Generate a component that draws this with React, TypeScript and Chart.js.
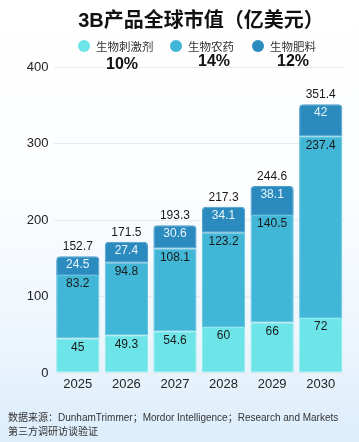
import React, { useEffect, useRef } from "react";
import { Chart, registerables } from "chart.js";

Chart.register(...registerables);

const categories = ["2025", "2026", "2027", "2028", "2029", "2030"];
const biostimulants = [45, 49.3, 54.6, 60, 66, 72];
const biopesticides = [83.2, 94.8, 108.1, 123.2, 140.5, 237.4];
const biofertilizers = [24.5, 27.4, 30.6, 34.1, 38.1, 42];
const totals = [152.7, 171.5, 193.3, 217.3, 244.6, 351.4];
const seriesNames = ["生物刺激剂", "生物农药", "生物肥料"];
const growthRates = ["10%", "14%", "12%"];
const yTicks = [0, 100, 200, 300, 400];

const colors = ["#6ce4e8", "#42b6d6", "#2b8bbf"];
const borderColors = ["#8aeced", "#62c5e0", "#4a9ecb"];
const FONT = "'Liberation Sans', 'Noto Sans CJK SC', Arial, sans-serif";

const labelPlugin = {
  id: "segLabels",
  afterDatasetsDraw(chart: any) {
    const ctx = chart.ctx;
    ctx.save();
    ctx.font = `12px ${FONT}`;
    ctx.textAlign = "center";
    ctx.textBaseline = "middle";
    chart.data.datasets.forEach((ds: any, di: number) => {
      const meta = chart.getDatasetMeta(di);
      meta.data.forEach((el: any, i: number) => {
        ctx.fillStyle = di === 2 ? "#e9f5fb" : "#1a1a1a";
        ctx.fillText(String(ds.data[i]), el.x, el.y + 9);
        if (di === 2) {
          ctx.fillStyle = "#1a1a1a";
          ctx.fillText(String(totals[i]), el.x, el.y - 9);
        }
      });
    });
    ctx.restore();
  },
};

export default function App() {
  const ref = useRef<HTMLCanvasElement>(null);
  useEffect(() => {
    document.body.style.margin = "0";
    const chart = new Chart(ref.current!, {
      type: "bar",
      data: {
        labels: categories,
        datasets: [biostimulants, biopesticides, biofertilizers].map((d, i) => ({
          label: seriesNames[i],
          data: d,
          backgroundColor: colors[i],
          borderColor: borderColors[i],
          borderWidth: 1,
          borderSkipped: false,
          borderRadius: i === 2 ? { topLeft: 4, topRight: 4, bottomLeft: 0, bottomRight: 0 } : 0,
          barPercentage: 0.89,
          categoryPercentage: 1,
        })),
      },
      options: {
        responsive: false,
        animation: false,
        layout: { padding: { top: 67, right: 14, bottom: 49, left: 0 } },
        plugins: { legend: { display: false }, title: { display: false }, tooltip: { enabled: false } },
        scales: {
          x: {
            stacked: true,
            grid: { display: false, drawTicks: false },
            border: { display: false },
            ticks: { color: "#222", font: { family: FONT, size: 13 }, padding: 4 },
            afterFit: (s: any) => { s.height = 20; },
          },
          y: {
            stacked: true,
            min: 0,
            max: 400,
            afterBuildTicks: (s: any) => { s.ticks = yTicks.map((v) => ({ value: v })); },
            grid: { color: "#e9eaec", drawTicks: false },
            border: { display: false },
            ticks: { color: "#222", font: { family: FONT, size: 13 }, padding: 5 },
            afterFit: (s: any) => { s.width = 53.5; },
          },
        },
      },
      plugins: [labelPlugin],
    } as any);
    return () => chart.destroy();
  }, []);

  const legendItems = [
    { cx: 84, tx: 96, px: 122, py: 64 },
    { cx: 176, tx: 188, px: 214, py: 61 },
    { cx: 258, tx: 270, px: 293, py: 61 },
  ];

  return (
    <div
      style={{
        position: "absolute",
        left: 0,
        top: 0,
        width: 359,
        height: 442,
        overflow: "hidden",
        fontFamily: FONT,
        background: "linear-gradient(to bottom, #ffffff 0%, #fbfdff 45%, #eef6fd 75%, #dcedfb 100%)",
      }}
    >
      <canvas ref={ref} width={359} height={442} style={{ position: "absolute", left: 0, top: 0 }} />
      <div
        style={{
          position: "absolute",
          left: 201,
          top: 17.5,
          transform: "translate(-50%, -50%)",
          whiteSpace: "nowrap",
          fontWeight: "bold",
          fontSize: 20,
          color: "#111",
        }}
      >
        3B产品全球市值（亿美元）
      </div>
      {legendItems.map((it, i) => (
        <React.Fragment key={i}>
          <div
            style={{
              position: "absolute",
              left: it.cx - 6,
              top: 40,
              width: 12,
              height: 12,
              borderRadius: 6,
              background: colors[i],
            }}
          />
          <div
            style={{
              position: "absolute",
              left: it.tx,
              top: 46,
              transform: "translateY(-50%)",
              whiteSpace: "nowrap",
              fontSize: 11.5,
              color: "#333",
            }}
          >
            {seriesNames[i]}
          </div>
          <div
            style={{
              position: "absolute",
              left: it.px,
              top: it.py,
              transform: "translate(-50%, -50%)",
              whiteSpace: "nowrap",
              fontSize: 16,
              fontWeight: "bold",
              color: "#111",
            }}
          >
            {growthRates[i]}
          </div>
        </React.Fragment>
      ))}
      <div
        style={{
          position: "absolute",
          left: 8,
          top: 411,
          fontSize: 10,
          lineHeight: "14px",
          color: "#333",
          whiteSpace: "nowrap",
        }}
      >
        <div>数据来源：DunhamTrimmer；Mordor Intelligence；Research and Markets</div>
        <div>第三方调研访谈验证</div>
      </div>
    </div>
  );
}
